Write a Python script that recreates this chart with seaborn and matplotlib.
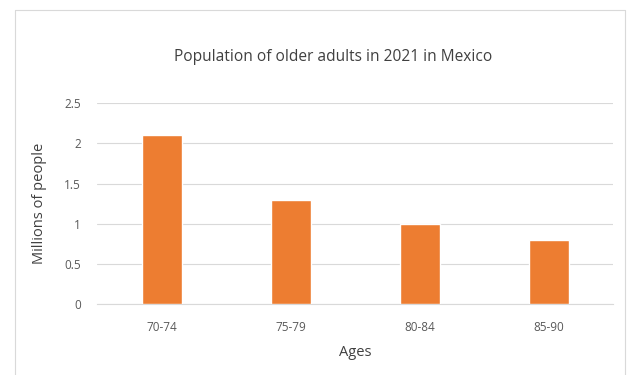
import matplotlib
matplotlib.use("Agg")
import matplotlib.pyplot as plt
import seaborn as sns
import pandas as pd
from matplotlib.lines import Line2D

ages = ["70-74", "75-79", "80-84", "85-90"]
population_millions = [2.1, 1.3, 1.0, 0.8]
y_ticks = [0, 0.5, 1, 1.5, 2, 2.5]
y_tick_labels = ["0", "0.5", "1", "1.5", "2", "2.5"]

sns.set_theme(style="white")
plt.rcParams['font.family'] = ['Open Sans', 'DejaVu Sans']

df = pd.DataFrame({"Ages": ages, "Millions": population_millions})

fig = plt.figure(figsize=(6.33, 3.75), dpi=100)
ax = fig.add_axes([0.154, 0.189, 0.815, 0.536])

sns.barplot(data=df, x="Ages", y="Millions", color="#ED7D31", width=0.31,
            saturation=1, ax=ax, zorder=3)

ax.set_ylim(0, 2.5)
ax.set_yticks(y_ticks)
ax.set_yticklabels(y_tick_labels)
ax.yaxis.grid(True, color="#D9D9D9", linewidth=0.8, zorder=0)
ax.set_axisbelow(True)
for s in ["top", "right", "left"]:
    ax.spines[s].set_visible(False)
ax.spines["bottom"].set_color("#D9D9D9")
ax.spines["bottom"].set_linewidth(0.8)
ax.tick_params(axis="x", length=0, labelsize=8.5, colors="#595959", pad=12)
ax.tick_params(axis="y", length=0, labelsize=8.5, colors="#595959", pad=12)

ax.set_xlabel("Ages", fontsize=10.5, color="#404040", labelpad=8)
ax.set_ylabel("Millions of people", fontsize=10.5, color="#404040", labelpad=12)
ax.set_title("Population of older adults in 2021 in Mexico", fontsize=11.2,
             color="#404040", x=0.456, pad=30)

# chart frame (left, top, right edges); y in pixels from the top
for xs, ys in [([15, 15], [380, 10]), ([15, 625], [10, 10]), ([625, 625], [10, 380])]:
    fig.add_artist(Line2D([x / 633 for x in xs], [1 - y / 375 for y in ys],
                          transform=fig.transFigure, color="#D9D9D9", linewidth=0.8))

fig.savefig("out.png", dpi=100)
